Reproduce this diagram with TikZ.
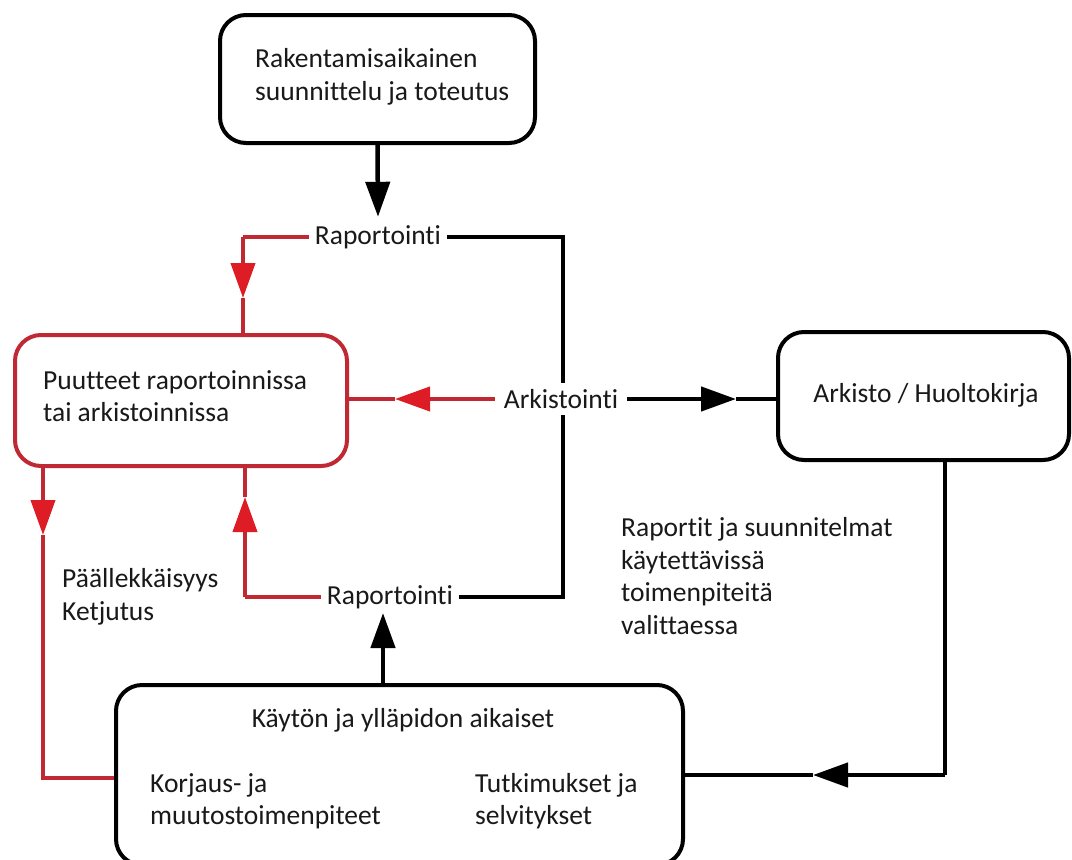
\documentclass[tikz,border=0pt]{standalone}
\usepackage{fontspec}
\setmainfont[Ligatures=NoCommon]{Carlito}
\usetikzlibrary{arrows.meta,calc}
\definecolor{redline}{RGB}{192,40,52}
\definecolor{redhead}{RGB}{222,28,38}
\definecolor{ink}{RGB}{0,0,0}
\definecolor{txt}{RGB}{25,25,25}
\tikzset{
  box/.style={draw=ink,line width=4pt,rounded corners=26pt,inner sep=0pt},
  redbox/.style={draw=redline,line width=4pt,rounded corners=26pt,inner sep=0pt},
  lbl/.style={text=txt,inner sep=0pt,align=left,font=\fontsize{27.5pt}{32.5pt}\selectfont},
  conn/.style={line width=4.5pt,draw=ink},
  rconn/.style={line width=4pt,draw=redline},
  bhead/.style={-{Triangle[length=35pt,width=24pt]}},
  rhead/.style={-{Triangle[length=35pt,width=24pt,color=redhead]}},
}
\begin{document}
\begin{tikzpicture}[x=1pt,y=-1pt]
\useasboundingbox (0,0) rectangle (1072,860);
\clip (0,0) rectangle (1072,860);
\fill[white] (0,0) rectangle (1072,860);
% boxes
\node[box,minimum width=315pt,minimum height=128pt] (top) at (377.5,79) {};
\node[redbox,minimum width=332pt,minimum height=131pt] (puu) at (181,400.5) {};
\node[box,minimum width=291pt,minimum height=128pt] (arkbox) at (923.5,396) {};
\node[box,minimum width=567pt,minimum height=180pt] (bot) at (399.5,775) {};
% texts
\node[lbl,anchor=west] (raktxt) at (255,77) {Rakentamisaikainen\\suunnittelu ja toteutus};
\node[lbl,anchor=west] (puutxt) at (43,396) {Puutteet raportoinnissa\\tai arkistoinnissa};
\node[lbl] (arktxt) at (926,395) {Arkisto / Huoltokirja};
\node[lbl,inner xsep=6pt,minimum height=40pt] (rap1) at (378,237) {Raportointi};
\node[lbl,inner xsep=9pt,minimum height=32pt] (ark) at (561,399) {Arkistointi};
\node[lbl,inner xsep=6pt,minimum height=32pt] (rap2) at (390,597) {Raportointi};
\node[lbl,anchor=west] (pk) at (62,597) {Päällekkäisyys\\Ketjutus};
\node[lbl,anchor=west] (rs) at (621,576) {Raportit ja suunnitelmat\\käytettävissä\\toimenpiteitä\\valittaessa};
\node[lbl] (kay) at (403,720) {Käytön ja ylläpidon aikaiset};
\node[lbl,anchor=west] (kor) at (150,801) {Korjaus- ja\\muutostoimenpiteet};
\node[lbl,anchor=west] (tut) at (475,801) {Tutkimukset ja\\selvitykset};
% coordinates
\coordinate (c1) at (563,237);
\coordinate (c2) at (563,597);
\coordinate (r1a) at (243,237);
\coordinate (r1t) at (243,298);
\coordinate (rat) at (395,399);
\coordinate (bat) at (736,399);
\coordinate (v1) at (945,775);
\coordinate (v1t) at (813,775);
\coordinate (r2a) at (245,597);
\coordinate (r2t) at (245,497);
\coordinate (l1t) at (43,535);
\coordinate (l1b) at (43,778);
\coordinate (b2) at (383,613);
% black connectors
\draw[conn,bhead] (top.south) -- (rap1.north);
\draw[conn] (rap1.east) -- (c1) -- (ark.north -| c1);
\draw[conn] (ark.south -| c2) -- (c2) -- (rap2.east);
\draw[conn,bhead] (ark.east) -- (bat);
\draw[conn] (bat) -- (arkbox.west |- bat);
\draw[conn] (arkbox.south -| v1) -- (v1);
\draw[conn,bhead] (v1) -- (v1t);
\draw[conn] (v1t) -- (bot.east |- v1t);
\draw[conn,bhead] (bot.north -| b2) -- (b2);
% red connectors
\draw[rconn] (rap1.west) -- (r1a);
\draw[rconn,rhead] (r1a) -- (r1t);
\draw[rconn] (r1t) -- (puu.north -| r1t);
\draw[rconn,rhead] (ark.west) -- (rat);
\draw[rconn] (rat) -- (puu.east |- rat);
\draw[rconn] (rap2.west) -- (r2a);
\draw[rconn,rhead] (r2a) -- (r2t);
\draw[rconn] (r2t) -- (puu.south -| r2t);
\draw[rconn,rhead] (puu.south -| l1t) -- (l1t);
\draw[rconn] (l1t) -- (l1b) -- (bot.west |- l1b);
\end{tikzpicture}
\end{document}
